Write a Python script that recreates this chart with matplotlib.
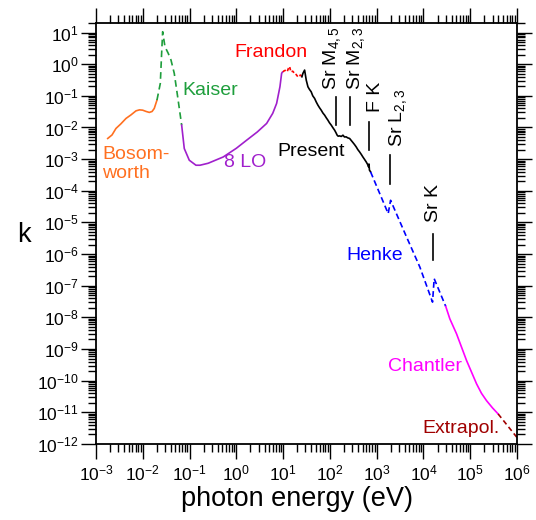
import matplotlib
matplotlib.use("Agg")
import matplotlib.pyplot as plt
from matplotlib.ticker import FixedLocator, NullFormatter, LogFormatterSciNotation
import numpy as np

plt.rcParams['font.family'] = ['Liberation Sans', 'DejaVu Sans']
plt.rcParams['mathtext.fontset'] = 'custom'
plt.rcParams['mathtext.rm'] = 'Liberation Sans'
plt.rcParams['mathtext.it'] = 'Liberation Sans:italic'
plt.rcParams['mathtext.bf'] = 'Liberation Sans:bold'

# ---------------- data (photon energy in eV, extinction coefficient k) -------------
bosom_E = [1.78e-3, 2.2e-3, 2.67e-3, 3.4e-3, 4.38e-3, 5.6e-3, 7.16e-3, 8.5e-3, 9.95e-3,
           1.18e-2, 1.38e-2, 1.58e-2, 1.76e-2, 2.01e-2]
bosom_k = [4.49e-3, 5.8e-3, 9.3e-3, 1.3e-2, 1.93e-2, 2.5e-2, 3.35e-2, 3.6e-2, 3.52e-2,
           3.2e-2, 2.99e-2, 3.2e-2, 3.99e-2, 7.31e-2]

kaiser_E = [2.01e-2, 2.37e-2, 2.52e-2, 2.66e-2, 2.98e-2, 3.5e-2, 4.01e-2, 4.71e-2, 5.57e-2, 6.78e-2]
kaiser_k = [7.31e-2, 0.247, 1.95, 10.6, 3.56, 2.2, 1.35, 0.512, 9.29e-2, 1.18e-2]

lo8_E = [6.78e-2, 7.71e-2, 9.86e-2, 0.137, 0.167, 0.25, 0.525, 1.0, 1.66, 2.8, 4.44,
         6.0, 7.26, 8.55, 9.29, 9.66]
lo8_k = [1.18e-2, 2.16e-3, 9.23e-4, 6.41e-4, 6.41e-4, 7.4e-4, 1.17e-3, 2.2e-3, 3.96e-3,
         7.2e-3, 1.34e-2, 2.8e-2, 5.74e-2, 0.193, 0.512, 0.56]

frandon_E = [9.91, 10.6, 11.6, 12.3, 13.0, 13.8, 14.3, 14.9, 16.0, 17.6, 19.0, 20.7, 22.0, 23.7, 25.2]
frandon_k = [0.574, 0.62, 0.650, 0.60, 0.74, 0.828, 0.66, 0.574, 0.60, 0.512, 0.47, 0.399, 0.43, 0.452, 0.399]

present_E = [25.2, 26.5, 28.8, 31.2, 33.9, 36.5, 39.8, 43.0, 47.1, 51.0, 55.4, 60.0, 65.2, 71.0,
             77.1, 84.0, 90.6, 98.0, 107, 116, 126, 135, 143, 150, 161, 175, 190, 205, 223,
             240, 264, 285, 310, 335, 365, 395, 431, 470, 507, 550, 597, 640, 672, 685, 700, 741]
present_k = [0.399, 0.512, 0.650, 0.314, 0.193, 0.160, 0.134, 0.100, 0.0828, 0.0640, 0.0508,
             0.0420, 0.0352, 0.0285, 0.0245, 0.0200, 0.0170, 0.0140, 0.0118, 0.0098, 0.00822,
             0.00680, 0.00570, 0.00530, 0.00542, 0.00520, 0.00570, 0.00500, 0.00505, 0.00470,
             0.00449, 0.00390, 0.00335, 0.00290, 0.00243, 0.00200, 0.00169, 0.00140, 0.00117,
             0.00098, 0.000815, 0.000680, 0.000566, 0.000700, 0.000450, 0.000394]

henke_E = [741, 1762, 1982, 4355, 8375, 15630, 16940, 30000]
henke_k = [3.94e-4, 1.90e-5, 5.00e-5, 3.45e-6, 3.88e-7, 3.03e-8, 1.67e-7, 2.2e-8]

chantler_E = [30000, 36600, 50900, 83400, 136500, 174000, 222800, 299000, 394500]
chantler_k = [2.2e-8, 9.0e-9, 3.03e-9, 4.33e-10, 7.93e-11, 3.98e-11, 2.34e-11, 1.38e-11, 8.89e-12]

extrap_E = [394500, 1.0e6]
extrap_k = [8.89e-12, 1.6e-12]

# absorption-edge markers: label, edge energy, line k-range, text position
edge_labels = [r"Sr M$_{4,5}$", r"Sr M$_{2,3}$", "F K", r"Sr L$_{2,3}$", "Sr K"]
edge_E = [132, 267, 681, 1914, 15630]
edge_k_top = [9.29e-2, 9.29e-2, 1.50e-2, 1.33e-3, 4.43e-6]
edge_k_bot = [1.18e-2, 1.18e-2, 1.91e-3, 1.61e-4, 6.32e-7]
edge_text_E = [112, 360, 938, 2810, 16680]
edge_text_k = [0.151, 0.151, 3.12e-2, 2.43e-3, 1.03e-5]

# axis decades
x_decades = list(range(-3, 7))
y_decades = list(range(-12, 2))

# ---------------- figure -------------
fig = plt.figure(figsize=(5.36, 5.20), dpi=100)
ax = fig.add_axes([0.1791, 0.1462, 0.7855, 0.8096])

lw = 1.2
c_orange = '#FF7020'
c_green = '#1E9E3C'
c_purple = '#A020CC'
c_red = '#FF0000'
c_blue = '#0000FF'
c_mag = '#FF00FF'
c_dred = '#A00000'

ax.plot(bosom_E, bosom_k, color=c_orange, lw=lw)
ax.plot(kaiser_E, kaiser_k, color=c_green, lw=lw, ls=(0, (4, 2.5)))
ax.plot(lo8_E, lo8_k, color=c_purple, lw=lw)
ax.plot(frandon_E, frandon_k, color=c_red, lw=lw, ls=(0, (2, 1.2)))
ax.plot(present_E, present_k, color='black', lw=lw)
ax.plot(henke_E, henke_k, color=c_blue, lw=lw, ls=(0, (3.5, 2)))
ax.plot(chantler_E, chantler_k, color=c_mag, lw=lw)
ax.plot(extrap_E, extrap_k, color=c_dred, lw=lw, ls=(0, (3, 2)))

for lab, e, kt, kb, te, tk in zip(edge_labels, edge_E, edge_k_top, edge_k_bot, edge_text_E, edge_text_k):
    ax.plot([e, e], [kb, kt], color='black', lw=1.2)
    ax.text(te, tk, lab, rotation=90, ha='center', va='bottom', fontsize=14)

fs = 14
ax.text(1.34e-3, 7.0e-4, "Bosom-\nworth", color=c_orange, fontsize=fs, ha='left', va='center',
        linespacing=1.1)
ax.text(0.273, 0.151, "Kaiser", color=c_green, fontsize=fs, ha='center', va='center')
ax.text(1.55, 7.69e-4, "8 LO", color=c_purple, fontsize=fs, ha='center', va='center')
ax.text(5.48, 2.33, "Frandon", color=c_red, fontsize=fs, ha='center', va='center')
ax.text(40.6, 1.71e-3, "Present", color='black', fontsize=fs, ha='center', va='center')
ax.text(893, 9.1e-7, "Henke", color=c_blue, fontsize=fs, ha='center', va='center')
ax.text(10720, 2.9e-10, "Chantler", color=c_mag, fontsize=fs, ha='center', va='center')
ax.text(64000, 3.16e-12, "Extrapol.", color=c_dred, fontsize=fs, ha='center', va='center')

ax.set_xscale('log')
ax.set_yscale('log')
ax.set_xlim(1e-3, 1e6)
ax.set_ylim(1e-12, 20)

xmaj = [10.0 ** d for d in x_decades]
ymaj = [10.0 ** d for d in y_decades]
xmin = [m * 10.0 ** d for d in x_decades[:-1] for m in range(2, 10)]
ymin = [m * 10.0 ** d for d in y_decades for m in range(2, 10) if m * 10.0 ** d <= 20]
ax.xaxis.set_major_locator(FixedLocator(xmaj))
ax.yaxis.set_major_locator(FixedLocator(ymaj))
ax.xaxis.set_minor_locator(FixedLocator(xmin))
ax.yaxis.set_minor_locator(FixedLocator(ymin))
ax.xaxis.set_major_formatter(LogFormatterSciNotation())
ax.yaxis.set_major_formatter(LogFormatterSciNotation())
ax.xaxis.set_minor_formatter(NullFormatter())
ax.yaxis.set_minor_formatter(NullFormatter())

ax.tick_params(which='both', direction='out', top=True, right=True,
               labeltop=False, labelright=False, width=1.0)
ax.tick_params(which='major', length=10.5, labelsize=12.5)
ax.tick_params(axis='y', which='major', pad=2)
ax.tick_params(axis='x', which='major', pad=3.5)
ax.tick_params(which='minor', length=5.5)
for sp in ax.spines.values():
    sp.set_linewidth(1.3)

ax.set_xlabel("photon energy (eV)", fontsize=19.5)
ax.xaxis.set_label_coords(0.477, -0.100)
ax.set_ylabel("k", fontsize=19.5, rotation=0, va='center')
ax.yaxis.set_label_coords(-0.17, 0.496)

fig.savefig("out.png", dpi=100)
